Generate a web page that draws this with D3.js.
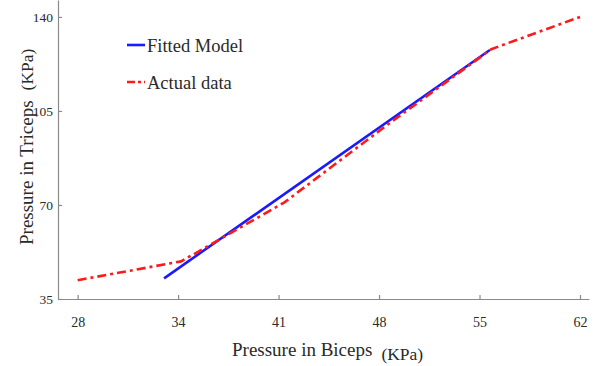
<!DOCTYPE html>
<html><head><meta charset="utf-8">
<script src="https://cdn.jsdelivr.net/npm/d3@7"></script>
<style>
body{margin:0;background:#fff}
text{font-family:"Liberation Serif","Times New Roman",serif}
</style>
</head><body><svg id="c" width="594" height="366"></svg>
<script>
const xTickValues = [28, 34.8, 41.6, 48.4, 55.2, 62];
const xTickLabels = ["28", "34", "41", "48", "55", "62"];
const yTickValues = [35, 70, 105, 140];
const yTickLabels = ["35", "70", "105", "140"];
const actualX = [28, 35, 42, 49, 56, 62];
const actualY = [42, 49, 71, 100, 128, 140];
const fittedX = [33.85, 55.9];
const fittedY = [42.7, 127.7];
const seriesNames = ["Fitted Model", "Actual data"];
const seriesColors = ["#1a1aff", "#ff1a1a"];

const svg = d3.select("#c");
const x = d3.scaleLinear().domain([26.67, 62.61]).range([58, 589]);
const y = d3.scaleLinear().domain([35, 146.3]).range([299, 0]);

const axisColor = "#8a8a8a", textColor = "#2a2a2a";

const gx = svg.append("g").attr("transform", "translate(0,299)")
  .call(d3.axisBottom(x).tickValues(xTickValues).tickFormat((d, i) => xTickLabels[i])
    .tickSizeInner(-4).tickSizeOuter(0).tickPadding(18));
const gy = svg.append("g").attr("transform", "translate(58,0)")
  .call(d3.axisLeft(y).tickValues(yTickValues).tickFormat((d, i) => yTickLabels[i])
    .tickSizeInner(-4).tickSizeOuter(0).tickPadding(5));
[gx, gy].forEach(g => {
  g.select(".domain").attr("stroke", axisColor).attr("stroke-width", 1.2);
  g.selectAll(".tick line").attr("stroke", axisColor).attr("stroke-width", 1.2);
  g.selectAll("text").attr("fill", textColor)
    .style("font-family", '"Liberation Serif","Times New Roman",serif');
});
gx.selectAll("text").style("font-size", "14px");
gy.selectAll("text").style("font-size", "13.5px");

const fitted = fittedX.map((v, i) => [v, fittedY[i]]);
const actual = actualX.map((v, i) => [v, actualY[i]]);
const line = d3.line().x(d => x(d[0])).y(d => y(d[1]));

svg.append("path").datum(fitted).attr("d", line)
  .attr("fill", "none").attr("stroke", seriesColors[0]).attr("stroke-width", 2.6);
svg.append("path").datum(actual).attr("d", line)
  .attr("fill", "none").attr("stroke", seriesColors[1]).attr("stroke-width", 2.6)
  .attr("stroke-dasharray", "9,4,3,4");

// legend
const leg = svg.append("g");
seriesNames.forEach((name, i) => {
  const ly = 45 + i * 37;
  leg.append("line").attr("x1", 127).attr("x2", 145).attr("y1", ly).attr("y2", ly)
    .attr("stroke", seriesColors[i]).attr("stroke-width", 2.6)
    .attr("stroke-dasharray", i === 1 ? "8,3,3,3" : null);
  leg.append("text").attr("x", 147).attr("y", ly + 6.5)
    .attr("fill", textColor).style("font-size", "18.5px").text(name);
});

// axis titles
const xt = svg.append("text").attr("x", 232).attr("y", 356).attr("fill", textColor)
  .style("font-size", "19px").text("Pressure in Biceps");
xt.append("tspan").attr("dx", 9).attr("dy", 4).style("font-size", "17.5px").text("(KPa)");

const yt = svg.append("text").attr("transform", "rotate(-90)")
  .attr("x", -245).attr("y", 33).attr("fill", textColor)
  .style("font-size", "19px").text("Pressure in Triceps");
yt.append("tspan").attr("dx", 10).style("font-size", "17.5px").text("(KPa)");
</script>
</body></html>
